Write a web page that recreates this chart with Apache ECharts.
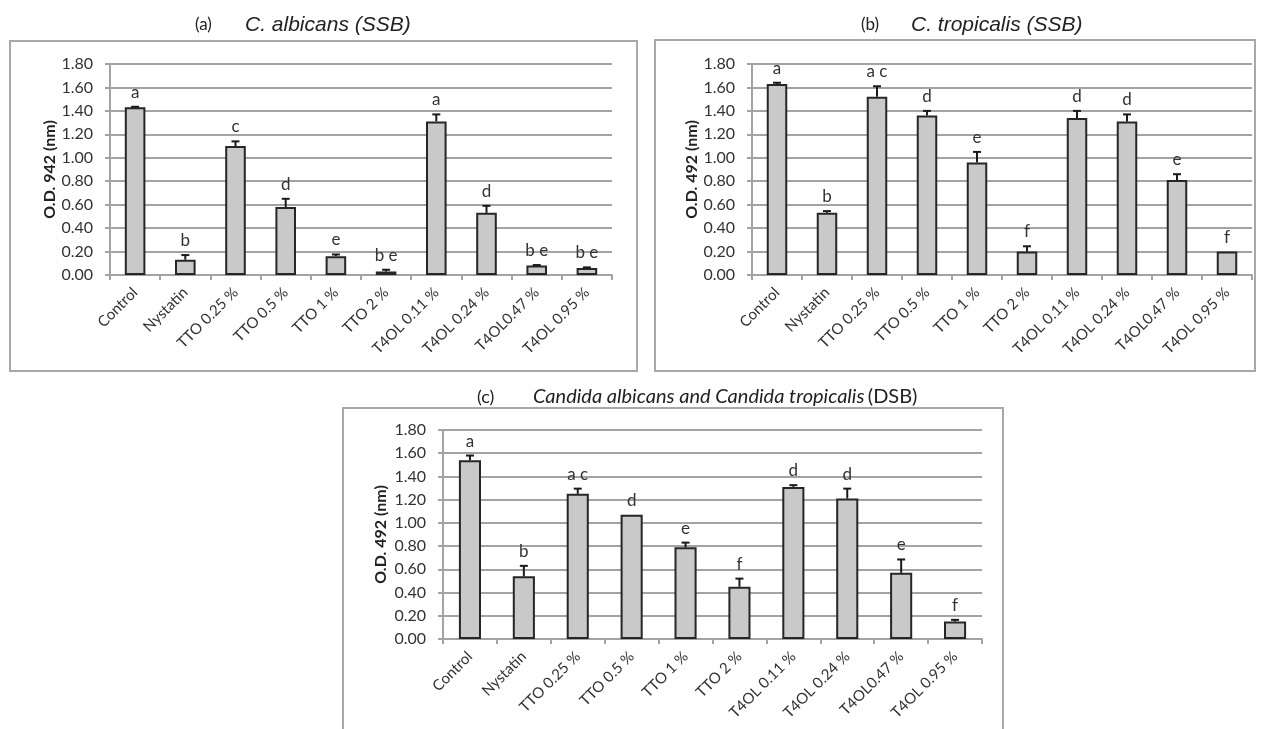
<!DOCTYPE html>
<html>
<head>
<meta charset="utf-8">
<script src="https://cdn.jsdelivr.net/npm/echarts@6/dist/echarts.min.js"></script>
<style>
  html, body { margin: 0; padding: 0; background: #fff; }
  #main { width: 1261px; height: 729px; }
</style>
</head>
<body>
<div id="main"></div>
<script>
// categories (same for the three panels)
var categories = ['Control', 'Nystatin', 'TTO 0.25 %', 'TTO 0.5 %', 'TTO 1 %', 'TTO 2 %',
                  'T4OL 0.11 %', 'T4OL 0.24 %', 'T4OL0.47 %', 'T4OL 0.95 %'];

// (a) C. albicans (SSB)
var albicansMean = [1.43, 0.13, 1.10, 0.58, 0.16, 0.03, 1.31, 0.53, 0.08, 0.06];
var albicansErr = [0.005, 0.04, 0.04, 0.07, 0.015, 0.015, 0.06, 0.06, 0.005, 0.005];
var albicansLetters = ['a', 'b', 'c', 'd', 'e', 'b e', 'a', 'd', 'b e', 'b e'];

// (b) C. tropicalis (SSB)
var tropicalisMean = [1.63, 0.53, 1.52, 1.36, 0.96, 0.20, 1.34, 1.31, 0.81, 0.20];
var tropicalisErr = [0.01, 0.015, 0.09, 0.04, 0.09, 0.045, 0.06, 0.06, 0.05, 0];
var tropicalisLetters = ['a', 'b', 'a c', 'd', 'e', 'f', 'd', 'd', 'e', 'f'];

// (c) mixed biofilm (DSB)
var dualMean = [1.54, 0.54, 1.25, 1.07, 0.79, 0.45, 1.31, 1.21, 0.57, 0.15];
var dualErr = [0.04, 0.09, 0.045, 0, 0.04, 0.07, 0.015, 0.085, 0.115, 0.015];
var dualLetters = ['a', 'b', 'a c', 'd', 'e', 'f', 'd', 'd', 'e', 'f'];

var yMin = 0, yMax = 1.8, yStep = 0.2;

var myChart = echarts.init(document.getElementById('main'));

var numFont = 'Lato, "Open Sans", sans-serif';
var gridColor = '#a3a3a3';

function makeX(idx) {
    return {
        type: 'category',
        gridIndex: idx,
        data: categories,
        axisLine: { lineStyle: { color: gridColor, width: 2 } },
        axisTick: { show: true, length: 5, lineStyle: { color: gridColor, width: 2 } },
        axisLabel: { rotate: 45, color: '#333', fontFamily: numFont, fontSize: 15, margin: 15, interval: 0 }
    };
}

function makeY(idx, name, gap) {
    return {
        type: 'value',
        gridIndex: idx,
        min: yMin, max: yMax, interval: yStep,
        name: name,
        nameLocation: 'middle',
        nameGap: gap,
        nameTextStyle: { fontFamily: numFont, fontWeight: 'bold', fontSize: 16, color: '#222' },
        axisLine: { show: true, lineStyle: { color: gridColor, width: 2 } },
        axisTick: { show: true, length: 5, lineStyle: { color: gridColor, width: 2 } },
        axisLabel: {
            color: '#333', fontFamily: numFont, fontSize: 16, margin: 17,
            formatter: function (v) { return v.toFixed(2); }
        },
        splitLine: { lineStyle: { color: gridColor, width: 2 } }
    };
}

function barSeries(idx, values) {
    return {
        type: 'bar',
        xAxisIndex: idx, yAxisIndex: idx,
        data: values,
        barWidth: '41%',
        itemStyle: { color: '#c9c9c9', borderColor: '#262626', borderWidth: 2 },
        silent: true
    };
}

// error bar (upward only) + significance letter
function errSeries(idx, values, errs, letters) {
    var data = [];
    for (var i = 0; i < values.length; i++) {
        data.push([i, values[i], errs[i]]);
    }
    return {
        type: 'custom',
        xAxisIndex: idx, yAxisIndex: idx,
        data: data,
        z: 5,
        silent: true,
        renderItem: function (params, api) {
            var base = api.coord([api.value(0), api.value(1)]);
            var top = api.coord([api.value(0), api.value(1) + api.value(2)]);
            var children = [];
            if (api.value(2) > 0) {
                children.push({
                    type: 'line',
                    shape: { x1: base[0], y1: base[1], x2: top[0], y2: top[1] },
                    style: { stroke: '#1a1a1a', lineWidth: 2 }
                });
                children.push({
                    type: 'line',
                    shape: { x1: top[0] - 4, y1: top[1], x2: top[0] + 4, y2: top[1] },
                    style: { stroke: '#1a1a1a', lineWidth: 2 }
                });
            }
            children.push({
                type: 'text',
                x: top[0], y: top[1] - 6,
                style: {
                    text: letters[params.dataIndex],
                    fill: '#333',
                    font: '17px ' + numFont,
                    align: 'center',
                    verticalAlign: 'bottom'
                }
            });
            return { type: 'group', children: children };
        }
    };
}

var frameStyle = { stroke: '#a8a8a8', lineWidth: 2, fill: 'none' };

myChart.setOption({
    animation: false,
    grid: [
        { left: 110, right: 649, top: 64, bottom: 454 },
        { left: 752, right: 9, top: 64, bottom: 454 },
        { left: 443, right: 279, top: 430, bottom: 90 }
    ],
    xAxis: [makeX(0), makeX(1), makeX(2)],
    yAxis: [
        makeY(0, 'O.D. 942 (nm)', 52),
        makeY(1, 'O.D. 492 (nm)', 50),
        makeY(2, 'O.D. 492 (nm)', 54)
    ],
    series: [
        barSeries(0, albicansMean),
        errSeries(0, albicansMean, albicansErr, albicansLetters),
        barSeries(1, tropicalisMean),
        errSeries(1, tropicalisMean, tropicalisErr, tropicalisLetters),
        barSeries(2, dualMean),
        errSeries(2, dualMean, dualErr, dualLetters)
    ],
    graphic: [
        { type: 'rect', shape: { x: 10, y: 41, width: 627, height: 330 }, style: frameStyle, silent: true },
        { type: 'rect', shape: { x: 655, y: 40, width: 600, height: 331 }, style: frameStyle, silent: true },
        { type: 'rect', shape: { x: 343, y: 408, width: 660, height: 340 }, style: frameStyle, silent: true },
        // panel titles
        { type: 'text', x: 195, y: 25, style: { text: '(a)', font: '17px ' + numFont, fill: '#222', verticalAlign: 'middle' } },
        { type: 'text', x: 245, y: 25, style: { text: 'C. albicans (SSB)', font: 'italic 21px "Liberation Sans", Arial, sans-serif', fill: '#222', verticalAlign: 'middle' } },
        { type: 'text', x: 861, y: 25, style: { text: '(b)', font: '17px ' + numFont, fill: '#222', verticalAlign: 'middle' } },
        { type: 'text', x: 911, y: 25, style: { text: 'C. tropicalis (SSB)', font: 'italic 21px "Liberation Sans", Arial, sans-serif', fill: '#222', verticalAlign: 'middle' } },
        { type: 'text', x: 477, y: 397, style: { text: '(c)', font: '18px ' + numFont, fill: '#222', verticalAlign: 'middle' } },
        {
            type: 'text', x: 533, y: 397,
            style: {
                text: '{i|Candida albicans and Candida tropicalis} {n|(DSB)}',
                verticalAlign: 'middle',
                rich: {
                    i: { fontFamily: numFont, fontStyle: 'italic', fontSize: 20, fill: '#222' },
                    n: { fontFamily: numFont, fontSize: 20, fill: '#222' }
                }
            }
        }
    ]
});
</script>
</body>
</html>
